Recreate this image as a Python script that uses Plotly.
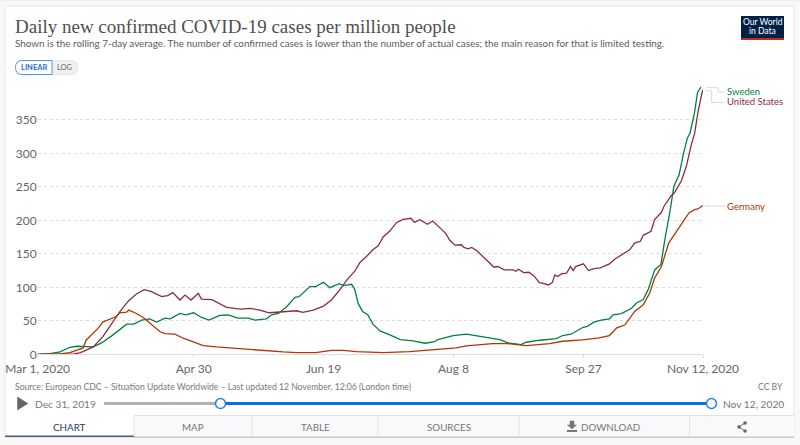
import pandas as pd
import plotly.graph_objects as go

W, H = 800, 445

start_date = pd.Timestamp('2020-03-01')

# values: day number since Mar 1 and cases per million
sweden_days = [0, 4.7, 8.6, 12.4, 15, 21.4, 24.6, 29, 34.2, 37, 40, 43, 45.8, 49, 51, 54.7, 57, 60, 63, 66, 70, 73.3, 77, 81, 83.6, 88, 90, 92.6, 95.8, 99, 100.6, 104.7, 107, 110, 112.4, 116, 117.6, 120.8, 122, 123.3, 125, 127, 129, 131.7, 135.5, 139.5, 144.5, 149, 152.8, 154, 159.9, 165, 171.4, 177.8, 181, 186, 188, 193.2, 199.6, 202, 205.2, 209.7, 211.6, 214, 216.8, 220, 221.4, 224.6, 228.5, 230.4, 233, 234.9, 237.4, 239.8, 241.3, 243.2, 244.8, 246.8, 248.4, 250, 251, 252.7, 253.9, 255.2]
sweden_vals = [0, 1, 3.5, 10.5, 12, 11, 17, 29, 45, 45, 51, 53, 48, 54, 53, 61, 59, 62, 55, 51, 58, 58.7, 54, 54, 51, 53, 59, 61, 71, 85, 86, 101, 101, 107.5, 99.5, 105.5, 102.5, 104.5, 97, 76, 64, 59, 45, 35, 29, 22, 20, 16.5, 19, 22, 28, 30, 26, 22, 17, 14.5, 18, 21, 23.5, 28, 30, 40, 42, 48, 51, 53, 59, 60.7, 68.7, 76.6, 81.6, 96.5, 126, 134, 171, 211, 251, 268, 298, 323, 330, 360, 391, 399]

us_days = [0, 14, 16.5, 21.4, 25, 29, 31.7, 35, 38, 41, 43.8, 47.7, 50, 52, 54.7, 56.7, 59, 61.8, 63, 67, 72.7, 78, 81.7, 85.5, 89, 94.5, 99.6, 102, 106, 110, 113, 116, 119, 122, 124, 126.5, 129, 131, 133, 135.5, 138, 140.6, 143.6, 145, 147, 150, 152, 155, 157, 158.5, 160.5, 163, 164, 165.6, 167, 169, 171, 173, 175.6, 177, 179.5, 183, 184, 185, 187, 189, 191, 193, 194.5, 196.5, 198, 199, 200, 201.5, 203.5, 205, 206, 207, 210, 212, 214, 216.5, 220, 222, 225, 227.8, 229.7, 231.9, 233, 236, 237.4, 240, 241, 243.8, 245, 247.7, 249.6, 251.5, 252.8, 254, 255.6, 256]
us_vals = [0, 0.5, 2.5, 11, 26, 49, 64, 80, 90, 96.5, 93.5, 86, 87.5, 92, 81, 88.5, 81, 91, 82.5, 81.5, 70, 67.5, 68.5, 66, 62, 63.5, 65, 62.5, 66, 72, 81, 95, 111, 124, 137, 146, 156, 162, 175.5, 184, 196.5, 201.5, 203, 197, 201, 194, 199, 188, 180.5, 170.5, 163, 163.5, 159.5, 157.5, 159.5, 154.5, 147, 141, 130, 131, 126, 126, 124, 127, 122, 122.5, 117, 107, 106, 103.5, 107, 118.5, 116, 120, 121, 131, 125, 131, 135, 125, 128, 129, 135, 142, 149, 156, 166, 168.7, 177.6, 183.6, 201, 212, 221, 237, 241, 259, 280.6, 313, 330, 360, 390, 395]

germany_days = [0, 8.6, 12.4, 17.5, 18.6, 21.4, 23.3, 25, 27.8, 30, 31.7, 34.2, 35, 37.4, 40.6, 43.8, 47, 49, 52.8, 56, 59.9, 63.7, 68.8, 76.5, 84, 88, 94.5, 99.6, 107, 113, 117.6, 122.7, 133, 143, 152, 161, 165, 172.7, 175, 180.5, 188, 197, 202, 209.7, 216, 220, 222.7, 226, 229.7, 233, 235.5, 237.4, 240, 242.8, 245, 247.7, 250.6, 252.8, 254, 256]
germany_vals = [0, 0.5, 2.5, 9.5, 21, 31, 39, 48, 52, 56, 62, 63, 66, 62, 55, 44, 34, 31, 30, 24, 19, 13, 11, 8.5, 6, 4.5, 3.5, 2.5, 2.5, 6, 6, 4, 2.5, 4, 7, 9.5, 12.5, 14.5, 16, 16, 13, 16, 19.5, 21.5, 24.5, 28, 39, 44, 64, 74, 91.5, 114, 131, 166, 178.6, 193.5, 211, 216, 217, 222]

x_tick_dates = ['2020-03-01', '2020-04-30', '2020-06-19', '2020-08-08', '2020-09-27', '2020-11-12']
x_tick_labels = ['Mar 1, 2020', 'Apr 30', 'Jun 19', 'Aug 8', 'Sep 27', 'Nov 12, 2020']
y_ticks = [0, 50, 100, 150, 200, 250, 300, 350]

SWEDEN = '#00813f'
US = '#8c2d3e'
GERMANY = '#b13507'
GREY = '#666666'
BORDER = '#dfe2e6'


def px(x):
    return x / W


def py(y):
    return 1 - y / H


def to_dates(days):
    return [start_date + pd.Timedelta(days=d) for d in days]


def label(x, y, text, size=11, color=GREY, anchor='left', font='Lato'):
    return dict(xref='paper', yref='paper', x=px(x), y=py(y), text=text, showarrow=False,
                xanchor=anchor, yanchor='middle', borderpad=0, borderwidth=0,
                font=dict(family=font, size=size, color=color))


def rect(x0, y0, x1, y1, fill, line=None, width=0):
    return dict(type='rect', xref='paper', yref='paper', x0=px(x0), x1=px(x1), y0=py(y0), y1=py(y1),
                fillcolor=fill, line=dict(color=line or fill, width=width), layer='below')


def seg(points, color, width=1, fill=None, closed=False):
    path = 'M ' + ' L '.join(f'{px(a):.5f},{py(b):.5f}' for a, b in points) + (' Z' if closed else '')
    return dict(type='path', xref='paper', yref='paper', path=path,
                line=dict(color=color, width=width), fillcolor=fill, layer='above')


def circle(cx, cy, r, fill, line, width=1.5):
    return dict(type='circle', xref='paper', yref='paper', x0=px(cx - r), x1=px(cx + r),
                y0=py(cy + r), y1=py(cy - r), fillcolor=fill, line=dict(color=line, width=width), layer='above')


def pill(x0, y0, x1, y1, left, right, fill, line):
    # half rounded buttons of the linear/log switch
    r = (y1 - y0) / 2
    p = f'M {px(x0 + (r if left else 0)):.5f},{py(y0):.5f} L {px(x1 - (r if right else 0)):.5f},{py(y0):.5f} '
    if right:
        p += f'Q {px(x1):.5f},{py(y0):.5f} {px(x1):.5f},{py(y0 + r):.5f} Q {px(x1):.5f},{py(y1):.5f} {px(x1 - r):.5f},{py(y1):.5f} '
    else:
        p += f'L {px(x1):.5f},{py(y1):.5f} '
    p += f'L {px(x0 + (r if left else 0)):.5f},{py(y1):.5f} '
    if left:
        p += f'Q {px(x0):.5f},{py(y1):.5f} {px(x0):.5f},{py(y0 + r):.5f} Q {px(x0):.5f},{py(y0):.5f} {px(x0 + r):.5f},{py(y0):.5f} '
    p += 'Z'
    return dict(type='path', xref='paper', yref='paper', path=p, fillcolor=fill,
                line=dict(color=line, width=1), layer='above')


fig = go.Figure()
for name, days, vals, color in [('Sweden', sweden_days, sweden_vals, SWEDEN),
                                ('United States', us_days, us_vals, US),
                                ('Germany', germany_days, germany_vals, GERMANY)]:
    fig.add_trace(go.Scatter(x=to_dates(days), y=vals, mode='lines', name=name,
                             line=dict(color=color, width=1.3), cliponaxis=False))

shapes = [
    rect(0, 0, 800, 1, '#ececec'),
    rect(5, 6, 794, 437.5, '#ffffff', '#e4e4e4', 1),
    rect(134, 416, 794, 436.5, '#f8f9fa'),
    rect(5, 435.5, 134, 437, '#44607f'),
    rect(134, 436.5, 794, 438, '#c9c9c9'),
    seg([(134, 415.5), (794, 415.5)], BORDER),
    # logo
    rect(741, 16, 784, 38, '#002147'),
    rect(741, 38, 784, 40, '#ce261e'),
    # connectors
    seg([(706, 87.7), (718, 87.7), (718, 92), (725, 92)], '#d8d8d8'),
    seg([(706, 90.7), (711.7, 90.7), (711.7, 102.5), (725, 102.5)], '#d8d8d8'),
    seg([(705, 206), (725, 206)], '#d8d8d8'),
    # switch
    pill(52, 60.5, 78, 74.5, False, True, '#f0f0f0', '#e6e6e6'),
    pill(15.5, 60.5, 52, 74.5, True, False, '#ffffff', '#4a97ee'),
    # time slider
    seg([(17.5, 397), (28, 403.5), (17.5, 410)], '#666666', 0.5, '#666666', True),
    seg([(104, 403.5), (220, 403.5)], '#a9b3bc', 3),
    seg([(220, 403.5), (711, 403.5)], '#0a6fe0', 3),
    circle(220.5, 403.5, 5, '#ffffff', '#2f80e0'),
    circle(711.5, 403.5, 5, '#ffffff', '#2f80e0'),
    # download icon
    seg([(570, 421), (574, 421), (574, 425), (576.5, 425), (572, 429), (567.5, 425), (570, 425)], '#777777', 0.5, '#777777', True),
    seg([(567, 431), (577, 431)], '#777777', 2),
    # share icon
    seg([(745, 423), (739, 427), (745, 431)], '#666666', 1),
    circle(745, 423, 1.8, '#666666', '#666666', 0),
    circle(739, 427, 1.8, '#666666', '#666666', 0),
    circle(745, 431, 1.8, '#666666', '#666666', 0),
]
for x in [134, 252, 378, 519, 689.5]:
    shapes.append(seg([(x, 416), (x, 436)], BORDER))

annotations = [
    label(15, 26, 'Daily new confirmed COVID-19 cases per million people', 19, '#4f4f4f', font='Liberation Serif'),
    label(15, 43, 'Shown is the rolling 7-day average. The number of confirmed cases is lower than the number of actual cases; the main reason for that is limited testing.', 9.9, '#5b5b5b'),
    label(33.5, 67.5, '<b>LINEAR</b>', 7.5, '#1a70d8', 'center'),
    label(65, 67.5, 'LOG', 7.5, '#666666', 'center'),
    label(762.5, 21.5, 'Our World', 8.5, '#ffffff', 'center'),
    label(762.5, 31.5, 'in Data', 8.5, '#ffffff', 'center'),
    label(727, 91.5, 'Sweden', 9.5, SWEDEN),
    label(727, 102, 'United States', 9.5, US),
    label(727, 206, 'Germany', 9.5, GERMANY),
    label(15, 386.5, 'Source: European CDC – Situation Update Worldwide – Last updated 12 November, 12:06 (London time)', 8.65, '#777777'),
    label(783, 386.5, 'CC BY', 8.65, '#777777', 'right'),
    label(35, 404, 'Dec 31, 2019', 10.2, '#777777'),
    label(723, 404, 'Nov 12, 2020', 10.2, '#777777'),
    label(69, 427, 'CHART', 9.8, '#1d3d63', 'center'),
    label(193, 427, 'MAP', 9.8, '#777777', 'center'),
    label(315, 427, 'TABLE', 9.8, '#777777', 'center'),
    label(449, 427, 'SOURCES', 9.8, '#777777', 'center'),
    label(581, 427, 'DOWNLOAD', 9.8, '#777777'),
]

fig.update_layout(
    width=W, height=H, autosize=False, showlegend=False,
    margin=dict(l=0, r=0, t=0, b=0, pad=0, autoexpand=False),
    paper_bgcolor='#f8f8f8', plot_bgcolor='rgba(0,0,0,0)',
    shapes=shapes, annotations=annotations,
    xaxis=dict(domain=[px(37.7), px(703)], range=[start_date, start_date + pd.Timedelta(days=256)],
               type='date', tickmode='array', tickvals=x_tick_dates, ticktext=x_tick_labels,
               showgrid=False, zeroline=False, showline=True, linecolor='#dddddd', linewidth=1,
               ticks='outside', ticklen=3, tickcolor='#dddddd', tickwidth=1,
               tickfont=dict(family='Lato', size=12, color=GREY)),
    yaxis=dict(domain=[py(354.3), py(85)], range=[0, 402], tickmode='array', tickvals=y_ticks,
               showgrid=True, gridcolor='#dddddd', griddash='3px,3px', gridwidth=1, zeroline=False,
               showline=False, ticks='', tickfont=dict(family='Lato', size=12, color=GREY)),
)

fig.write_html("out.html", config={'displayModeBar': False},
               post_script="document.body.style.margin='0';document.documentElement.style.overflow='hidden';")
